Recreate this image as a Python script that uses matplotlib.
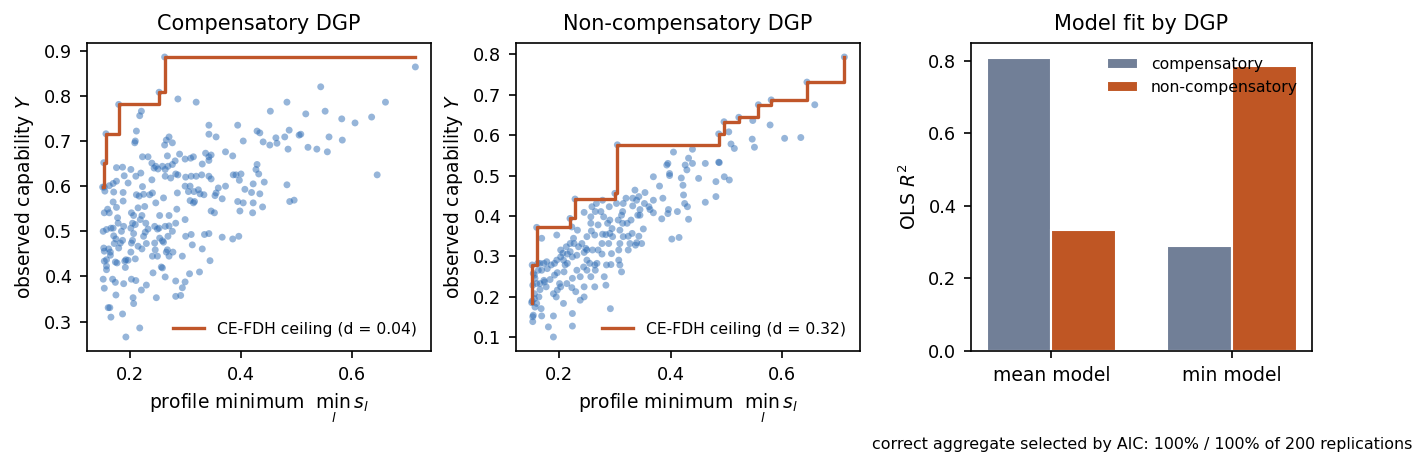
import numpy as np
from matplotlib import pyplot as plt

# compensatory DGP sample (profile minimum, observed capability)
comp_x = [0.150, 0.152, 0.156, 0.179, 0.252, 0.262, 0.715,
          0.544, 0.453, 0.483, 0.661, 0.552, 0.517, 0.636, 0.582, 0.606, 0.286, 0.319, 0.220, 0.217, 0.342,
          0.394, 0.211, 0.487, 0.508, 0.429, 0.434, 0.342, 0.355, 0.559, 0.270, 0.265, 0.209, 0.208, 0.404,
          0.440, 0.463, 0.465, 0.452, 0.276, 0.262, 0.583, 0.479, 0.505, 0.521, 0.537, 0.485, 0.556, 0.372,
          0.385, 0.342, 0.346, 0.314, 0.309, 0.289, 0.267, 0.222, 0.232, 0.336, 0.342, 0.330, 0.299, 0.281,
          0.276, 0.258, 0.246, 0.239, 0.243, 0.250, 0.263, 0.268, 0.429, 0.427, 0.432, 0.386, 0.400, 0.391,
          0.397, 0.442, 0.422, 0.407, 0.419, 0.434, 0.483, 0.646, 0.372, 0.359, 0.355, 0.353, 0.366, 0.488,
          0.496, 0.394, 0.404, 0.422, 0.439, 0.398, 0.421, 0.346, 0.352, 0.342, 0.346, 0.319, 0.329, 0.310,
          0.300, 0.282, 0.286, 0.273, 0.263, 0.239, 0.219, 0.210, 0.201, 0.186, 0.175, 0.189, 0.196, 0.175,
          0.169, 0.162, 0.153, 0.154, 0.170, 0.187, 0.222, 0.240, 0.235, 0.211, 0.216, 0.224, 0.260, 0.285,
          0.299, 0.308, 0.305, 0.315, 0.323, 0.326, 0.333, 0.316, 0.308, 0.314, 0.246, 0.226, 0.214, 0.187,
          0.169, 0.175, 0.159, 0.153, 0.162, 0.177, 0.202, 0.206, 0.221, 0.218, 0.253, 0.270, 0.284, 0.299,
          0.282, 0.270, 0.263, 0.252, 0.249, 0.244, 0.228, 0.232, 0.227, 0.224, 0.209, 0.204, 0.201, 0.206,
          0.188, 0.184, 0.178, 0.169, 0.165, 0.157, 0.151, 0.170, 0.174, 0.186, 0.204, 0.202, 0.214, 0.221,
          0.229, 0.244, 0.245, 0.258, 0.260, 0.268, 0.276, 0.300, 0.310, 0.312, 0.330, 0.334, 0.342, 0.366,
          0.385, 0.396, 0.344, 0.265, 0.267, 0.277, 0.270, 0.294, 0.258, 0.256, 0.241, 0.263, 0.282, 0.299,
          0.307, 0.325, 0.294, 0.291, 0.282, 0.247, 0.229, 0.220, 0.210, 0.202, 0.206, 0.205, 0.190, 0.196,
          0.192, 0.191, 0.176, 0.173, 0.164, 0.157, 0.153, 0.157, 0.157, 0.168, 0.173, 0.151, 0.153, 0.174,
          0.188, 0.160, 0.163, 0.165, 0.186, 0.217, 0.192, 0.152, 0.153, 0.161, 0.164, 0.179, 0.171, 0.182,
          0.201, 0.209, 0.249, 0.240, 0.253]
comp_y = [0.598, 0.652, 0.716, 0.781, 0.808, 0.886, 0.864,
          0.820, 0.766, 0.786, 0.786, 0.766, 0.760, 0.753, 0.749, 0.740, 0.793, 0.786, 0.766, 0.756, 0.735,
          0.735, 0.722, 0.724, 0.715, 0.722, 0.718, 0.715, 0.709, 0.709, 0.709, 0.702, 0.700, 0.696, 0.700,
          0.698, 0.707, 0.695, 0.691, 0.696, 0.691, 0.702, 0.709, 0.713, 0.686, 0.682, 0.682, 0.676, 0.676,
          0.667, 0.665, 0.669, 0.665, 0.662, 0.671, 0.667, 0.665, 0.665, 0.673, 0.657, 0.649, 0.660, 0.656,
          0.648, 0.644, 0.644, 0.651, 0.640, 0.638, 0.637, 0.644, 0.648, 0.637, 0.627, 0.625, 0.627, 0.625,
          0.613, 0.609, 0.605, 0.593, 0.586, 0.583, 0.603, 0.625, 0.600, 0.596, 0.585, 0.579, 0.572, 0.566,
          0.569, 0.566, 0.563, 0.563, 0.554, 0.545, 0.541, 0.545, 0.541, 0.622, 0.616, 0.622, 0.625, 0.622,
          0.620, 0.627, 0.625, 0.618, 0.622, 0.614, 0.629, 0.622, 0.637, 0.642, 0.641, 0.623, 0.607, 0.611,
          0.606, 0.601, 0.598, 0.589, 0.587, 0.586, 0.599, 0.585, 0.581, 0.581, 0.578, 0.582, 0.574, 0.585,
          0.600, 0.600, 0.588, 0.588, 0.592, 0.583, 0.581, 0.566, 0.568, 0.563, 0.563, 0.555, 0.552, 0.567,
          0.565, 0.553, 0.549, 0.541, 0.541, 0.530, 0.541, 0.535, 0.535, 0.526, 0.535, 0.535, 0.549, 0.526,
          0.518, 0.512, 0.511, 0.507, 0.505, 0.511, 0.518, 0.505, 0.498, 0.489, 0.515, 0.518, 0.507, 0.495,
          0.511, 0.500, 0.518, 0.507, 0.507, 0.504, 0.500, 0.490, 0.483, 0.480, 0.480, 0.474, 0.467, 0.461,
          0.473, 0.474, 0.459, 0.479, 0.476, 0.489, 0.500, 0.489, 0.493, 0.470, 0.461, 0.493, 0.495, 0.487,
          0.483, 0.489, 0.435, 0.454, 0.459, 0.454, 0.445, 0.445, 0.419, 0.421, 0.408, 0.399, 0.390, 0.388,
          0.406, 0.410, 0.375, 0.358, 0.356, 0.353, 0.381, 0.370, 0.391, 0.394, 0.340, 0.353, 0.434, 0.436,
          0.437, 0.420, 0.430, 0.432, 0.447, 0.437, 0.434, 0.423, 0.415, 0.394, 0.387, 0.394, 0.374, 0.359,
          0.384, 0.331, 0.331, 0.310, 0.317, 0.286, 0.266, 0.463, 0.456, 0.461, 0.454, 0.463, 0.473, 0.474,
          0.454, 0.439, 0.445, 0.445, 0.485]

# non-compensatory DGP sample
nonc_x = [0.151, 0.152, 0.160, 0.2197, 0.2287, 0.300, 0.3045, 0.486, 0.4955, 0.522, 0.557, 0.580, 0.644, 0.711,
          0.658, 0.633, 0.604, 0.578, 0.547, 0.546, 0.550, 0.504, 0.508, 0.514, 0.505, 0.496, 0.481, 0.486,
          0.487, 0.481, 0.462, 0.450, 0.462, 0.439, 0.432, 0.426, 0.429, 0.439, 0.405, 0.395, 0.393, 0.398,
          0.398, 0.419, 0.422, 0.423, 0.425, 0.430, 0.432, 0.412, 0.396, 0.395, 0.384, 0.380, 0.386, 0.369,
          0.402, 0.415, 0.354, 0.343, 0.339, 0.332, 0.332, 0.345, 0.361, 0.363, 0.369, 0.341, 0.345, 0.351,
          0.343, 0.348, 0.339, 0.331, 0.329, 0.322, 0.314, 0.314, 0.315, 0.320, 0.309, 0.309, 0.307, 0.307,
          0.309, 0.312, 0.324, 0.337, 0.291, 0.287, 0.291, 0.295, 0.296, 0.284, 0.278, 0.270, 0.275, 0.278,
          0.264, 0.259, 0.257, 0.265, 0.270, 0.277, 0.293, 0.294, 0.285, 0.264, 0.265, 0.250, 0.255, 0.248,
          0.245, 0.241, 0.226, 0.235, 0.232, 0.224, 0.215, 0.211, 0.208, 0.203, 0.203, 0.215, 0.220, 0.196,
          0.223, 0.257, 0.245, 0.250, 0.238, 0.224, 0.214, 0.203, 0.197, 0.195, 0.190, 0.209, 0.197, 0.192,
          0.201, 0.192, 0.178, 0.169, 0.173, 0.174, 0.177, 0.166, 0.164, 0.166, 0.156, 0.156, 0.160, 0.157,
          0.168, 0.152, 0.153, 0.154, 0.169, 0.153, 0.181, 0.190, 0.190, 0.224, 0.224, 0.208, 0.292, 0.156,
          0.157, 0.160, 0.163, 0.166, 0.154, 0.153, 0.169, 0.196, 0.186, 0.173, 0.179, 0.184, 0.162, 0.232,
          0.244, 0.257, 0.281, 0.284, 0.264, 0.245, 0.238, 0.245, 0.230, 0.223, 0.250, 0.260, 0.289, 0.268,
          0.277, 0.306, 0.312, 0.303, 0.324, 0.327, 0.315, 0.290, 0.280, 0.267, 0.250, 0.258, 0.233, 0.227,
          0.220, 0.213, 0.207, 0.336, 0.353, 0.369]
nonc_y = [0.186, 0.279, 0.372, 0.394, 0.442, 0.456, 0.576, 0.603, 0.633, 0.644, 0.675, 0.687, 0.731, 0.793,
          0.675, 0.594, 0.592, 0.625, 0.636, 0.590, 0.570, 0.608, 0.578, 0.567, 0.489, 0.497, 0.485, 0.533,
          0.532, 0.448, 0.530, 0.493, 0.434, 0.565, 0.543, 0.526, 0.514, 0.530, 0.558, 0.530, 0.526, 0.505,
          0.500, 0.494, 0.476, 0.452, 0.431, 0.423, 0.392, 0.411, 0.416, 0.406, 0.393, 0.474, 0.444, 0.439,
          0.343, 0.347, 0.458, 0.448, 0.439, 0.444, 0.425, 0.416, 0.423, 0.416, 0.408, 0.402, 0.402, 0.368,
          0.350, 0.332, 0.334, 0.357, 0.390, 0.382, 0.382, 0.411, 0.431, 0.444, 0.365, 0.332, 0.316, 0.291,
          0.279, 0.262, 0.316, 0.328, 0.390, 0.382, 0.357, 0.369, 0.349, 0.354, 0.355, 0.378, 0.411, 0.439,
          0.353, 0.423, 0.398, 0.411, 0.316, 0.306, 0.280, 0.307, 0.279, 0.279, 0.266, 0.291, 0.283, 0.320,
          0.310, 0.332, 0.345, 0.324, 0.303, 0.299, 0.283, 0.279, 0.291, 0.316, 0.299, 0.306, 0.312, 0.353,
          0.373, 0.382, 0.409, 0.266, 0.250, 0.246, 0.233, 0.225, 0.217, 0.200, 0.208, 0.262, 0.260, 0.254,
          0.233, 0.283, 0.287, 0.266, 0.241, 0.237, 0.225, 0.233, 0.200, 0.218, 0.208, 0.196, 0.184, 0.175,
          0.171, 0.190, 0.151, 0.155, 0.153, 0.139, 0.126, 0.101, 0.153, 0.159, 0.128, 0.184, 0.171, 0.254,
          0.246, 0.233, 0.266, 0.283, 0.258, 0.229, 0.345, 0.291, 0.279, 0.283, 0.270, 0.243, 0.283, 0.266,
          0.274, 0.250, 0.250, 0.229, 0.225, 0.225, 0.192, 0.200, 0.213, 0.223, 0.316, 0.316, 0.332, 0.283,
          0.332, 0.390, 0.402, 0.431, 0.350, 0.332, 0.349, 0.423, 0.398, 0.431, 0.349, 0.363, 0.365, 0.332,
          0.332, 0.324, 0.308, 0.464, 0.431, 0.497]

d_comp = 0.04
d_nonc = 0.32

models = ["mean model", "min model"]
dgps = ["compensatory", "non-compensatory"]
r2_comp = [0.808, 0.288]
r2_nonc = [0.333, 0.784]

footnote = "correct aggregate selected by AIC: 100% / 100% of 200 replications"

pt_color = "#2f6db5"
ceil_color = "#c0562a"
bar_colors = ["#717f97", "#bf5624"]


def scatterCeiling(ax, xs, ys, d, title):
	xs = np.asarray(xs)
	ys = np.asarray(ys)
	ax.scatter(xs, ys, s=11, color=pt_color, alpha=0.5, edgecolors="none")
	order = np.argsort(xs, kind="stable")
	ceil = np.maximum.accumulate(ys[order])
	ax.step(xs[order], ceil, where="post", color=ceil_color, linewidth=1.6,
		label="CE-FDH ceiling (d = %.2f)" % d)
	ax.set_title(title, fontsize=10)
	ax.set_xlabel(r"profile minimum  $\min_{l}\, s_l$", fontsize=9)
	ax.set_ylabel(r"observed capability $Y$", fontsize=9)
	ax.tick_params(labelsize=8.5)
	ax.legend(loc="lower right", frameon=False, fontsize=7.5)


fig = plt.figure(figsize=(1427 / 150, 468 / 150), dpi=150)
ax1 = fig.add_axes([87 / 1427, 117 / 468, 344 / 1427, 308 / 468])
ax2 = fig.add_axes([516 / 1427, 117 / 468, 344 / 1427, 308 / 468])
ax3 = fig.add_axes([971 / 1427, 117 / 468, 341 / 1427, 308 / 468])

scatterCeiling(ax1, comp_x, comp_y, d_comp, "Compensatory DGP")
scatterCeiling(ax2, nonc_x, nonc_y, d_nonc, "Non-compensatory DGP")

pos = np.arange(len(models))
ax3.bar(pos - 0.18, r2_comp, width=0.36, color=bar_colors[0], edgecolor="white", linewidth=1.0, label=dgps[0])
ax3.bar(pos + 0.18, r2_nonc, width=0.36, color=bar_colors[1], edgecolor="white", linewidth=1.0, label=dgps[1])
ax3.set_xticks(pos)
ax3.set_xticklabels(models, fontsize=9)
ax3.set_ylabel(r"OLS $R^2$", fontsize=9)
ax3.set_title("Model fit by DGP", fontsize=10)
ax3.tick_params(axis="y", labelsize=8.5)
ax3.legend(loc="upper right", frameon=False, fontsize=7.5)

fig.text(1412 / 1427, 24 / 468, footnote, ha="right", va="center", fontsize=7.6)

plt.savefig("out.png", dpi=150)
